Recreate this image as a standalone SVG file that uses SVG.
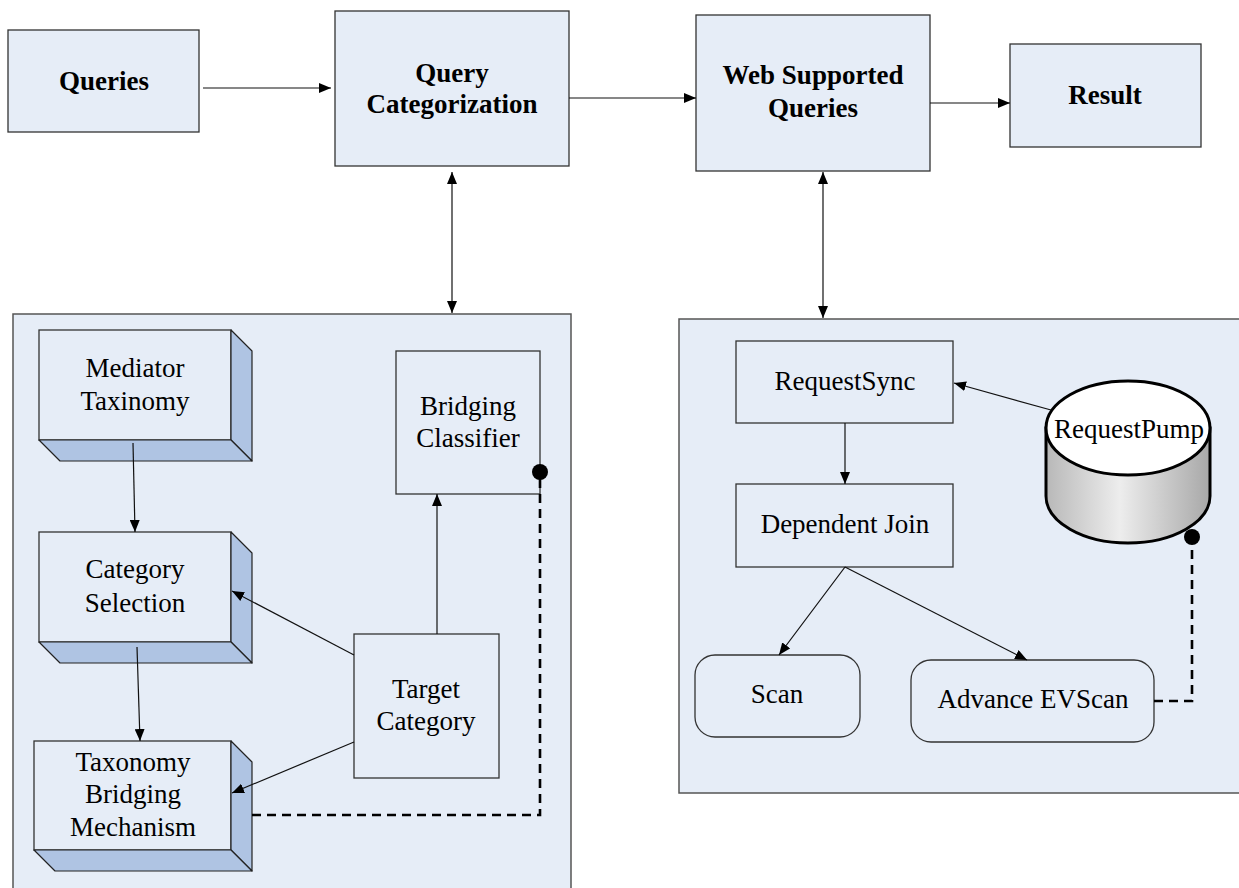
<svg xmlns="http://www.w3.org/2000/svg" width="1239" height="888" viewBox="0 0 1239 888">
  <defs>
    <style>
      .box { fill: #E6EDF7; stroke: #333333; stroke-width: 1.3; }
      .panel { fill: #E6EDF7; stroke: #555555; stroke-width: 1.5; }
      .face { fill: #AFC4E3; stroke: #222222; stroke-width: 1.2; stroke-linejoin: round; }
      .bold { font-family: "Liberation Serif", "Times New Roman", serif; font-weight: bold; font-size: 27px; fill: #000; text-anchor: middle; }
      .reg { font-family: "Liberation Serif", "Times New Roman", serif; font-size: 27px; fill: #000; text-anchor: middle; }
      .link { fill: none; stroke: #111111; stroke-width: 1.2; }
      .dash { fill: none; stroke: #000000; stroke-width: 2.6; stroke-dasharray: 9 6; }
    </style>
    <marker id="arrow" viewBox="0 0 12 10" refX="12" refY="5" markerWidth="12" markerHeight="10" markerUnits="userSpaceOnUse" orient="auto">
      <path d="M0,0 L12,5 L0,10 Z" fill="#000"/>
    </marker>
    <marker id="arrowStart" viewBox="0 0 12 10" refX="0" refY="5" markerWidth="12" markerHeight="10" markerUnits="userSpaceOnUse" orient="auto">
      <path d="M12,0 L0,5 L12,10 Z" fill="#000"/>
    </marker>
    <linearGradient id="drum" x1="0" y1="0" x2="1" y2="0">
      <stop offset="0" stop-color="#B8B8B8"/>
      <stop offset="0.45" stop-color="#EDEDED"/>
      <stop offset="1" stop-color="#A8A8A8"/>
    </linearGradient>
  </defs>

  <!-- containers -->
  <rect id="left-panel" class="panel" x="13" y="314" width="558" height="590"/>
  <rect id="right-panel" class="panel" x="679" y="319" width="580" height="474"/>

  <!-- top row -->
  <g id="queries">
    <rect class="box" x="8" y="30" width="191" height="102"/>
    <text class="bold" x="104" y="90">Queries</text>
  </g>
  <g id="query-categorization">
    <rect class="box" x="335" y="11" width="234" height="155"/>
    <text class="bold" x="452" y="82">Query</text>
    <text class="bold" x="452" y="113">Categorization</text>
  </g>
  <g id="web-supported-queries">
    <rect class="box" x="696" y="15" width="234" height="156"/>
    <text class="bold" x="813" y="84">Web Supported</text>
    <text class="bold" x="813" y="117">Queries</text>
  </g>
  <g id="result">
    <rect class="box" x="1010" y="44" width="191" height="103"/>
    <text class="bold" x="1105" y="104">Result</text>
  </g>

  <!-- left panel nodes -->
  <g id="mediator-taxinomy">
    <rect class="box" x="39" y="330" width="192" height="110"/>
    <path class="face" d="M231,330 L252,351 L252,461 L231,440 Z"/>
    <path class="face" d="M39,440 L231,440 L252,461 L60,461 Z"/>
    <text class="reg" x="135" y="377">Mediator</text>
    <text class="reg" x="135" y="410">Taxinomy</text>
  </g>
  <g id="category-selection">
    <rect class="box" x="39" y="532" width="192" height="110"/>
    <path class="face" d="M231,532 L252,553 L252,663 L231,642 Z"/>
    <path class="face" d="M39,642 L231,642 L252,663 L60,663 Z"/>
    <text class="reg" x="135" y="578">Category</text>
    <text class="reg" x="135" y="612">Selection</text>
  </g>
  <g id="taxonomy-bridging-mechanism">
    <rect class="box" x="34" y="741" width="197" height="109"/>
    <path class="face" d="M231,741 L252,762 L252,871 L231,850 Z"/>
    <path class="face" d="M34,850 L231,850 L252,871 L55,871 Z"/>
    <text class="reg" x="133" y="771">Taxonomy</text>
    <text class="reg" x="133" y="803">Bridging</text>
    <text class="reg" x="133" y="836">Mechanism</text>
  </g>
  <g id="bridging-classifier">
    <rect class="box" x="396" y="351" width="144" height="143"/>
    <text class="reg" x="468" y="415">Bridging</text>
    <text class="reg" x="468" y="447">Classifier</text>
  </g>
  <g id="target-category">
    <rect class="box" x="354" y="634" width="145" height="144"/>
    <text class="reg" x="426" y="698">Target</text>
    <text class="reg" x="426" y="730">Category</text>
  </g>

  <!-- right panel nodes -->
  <g id="request-sync">
    <rect class="box" x="736" y="341" width="217" height="82"/>
    <text class="reg" x="845" y="390">RequestSync</text>
  </g>
  <g id="dependent-join">
    <rect class="box" x="736" y="484" width="217" height="83"/>
    <text class="reg" x="845" y="533">Dependent Join</text>
  </g>
  <g id="request-pump">
    <path d="M1046,428 L1046,496 A82,47 0 0 0 1210,496 L1210,428 Z" fill="url(#drum)" stroke="#000" stroke-width="3"/>
    <ellipse cx="1128" cy="428" rx="82" ry="47" fill="#FFFFFF" stroke="#000" stroke-width="3"/>
    <text class="reg" x="1129" y="438">RequestPump</text>
  </g>
  <g id="scan">
    <rect class="box" x="695" y="655" width="165" height="82" rx="20" ry="20"/>
    <text class="reg" x="777" y="703">Scan</text>
  </g>
  <g id="advance-evscan">
    <rect class="box" x="911" y="660" width="243" height="82" rx="20" ry="20"/>
    <text class="reg" x="1033" y="708">Advance EVScan</text>
  </g>

  <!-- connectors -->
  <g id="connectors">
    <line class="link" x1="203" y1="88" x2="331" y2="88" marker-end="url(#arrow)"/>
    <line class="link" x1="569" y1="98" x2="696" y2="98" marker-end="url(#arrow)"/>
    <line class="link" x1="930" y1="103" x2="1010" y2="103" marker-end="url(#arrow)"/>
    <line class="link" x1="452" y1="172" x2="452" y2="313" marker-start="url(#arrowStart)" marker-end="url(#arrow)"/>
    <line class="link" x1="823" y1="172" x2="823" y2="318" marker-start="url(#arrowStart)" marker-end="url(#arrow)"/>

    <line class="link" x1="133" y1="443" x2="135" y2="532" marker-end="url(#arrow)"/>
    <line class="link" x1="137" y1="647" x2="140" y2="741" marker-end="url(#arrow)"/>
    <line class="link" x1="354" y1="655" x2="232" y2="591" marker-end="url(#arrow)"/>
    <line class="link" x1="354" y1="742" x2="232" y2="793" marker-end="url(#arrow)"/>
    <line class="link" x1="437" y1="634" x2="437" y2="494" marker-end="url(#arrow)"/>
    <polyline class="dash" points="252,815 540,815 540,476"/>
    <circle cx="540" cy="472" r="8" fill="#000"/>

    <line class="link" x1="845" y1="423" x2="845" y2="484" marker-end="url(#arrow)"/>
    <line class="link" x1="1051" y1="410" x2="954" y2="383" marker-end="url(#arrow)"/>
    <line class="link" x1="845" y1="567" x2="779" y2="655" marker-end="url(#arrow)"/>
    <line class="link" x1="845" y1="567" x2="1027" y2="660" marker-end="url(#arrow)"/>
    <polyline class="dash" points="1154,701 1192,701 1192,541"/>
    <circle cx="1192" cy="537" r="8" fill="#000"/>
  </g>
</svg>
